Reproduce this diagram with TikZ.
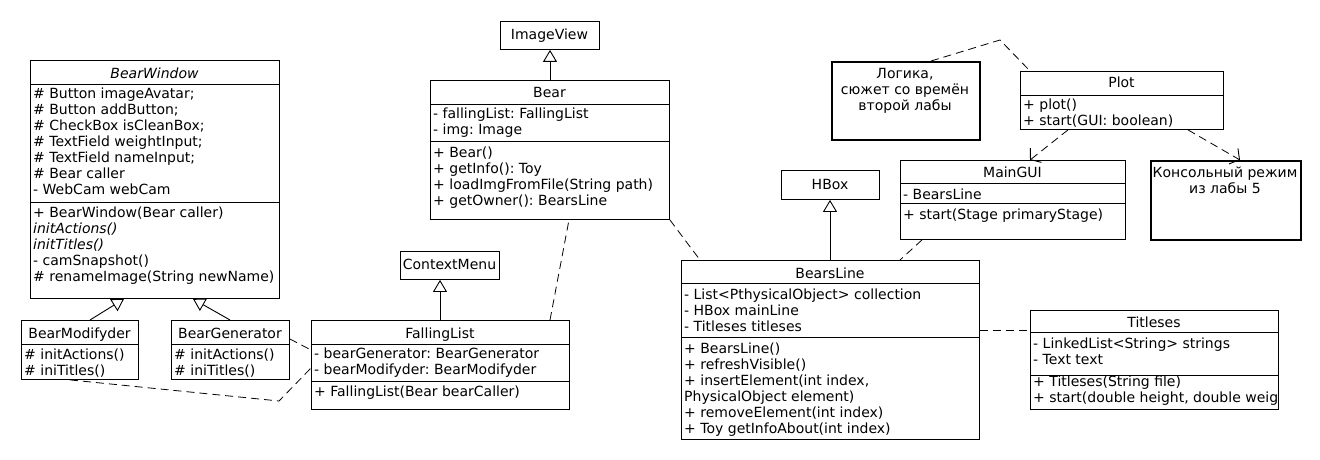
\documentclass[tikz,border=0pt]{standalone}
\usepackage{fontspec}
\setmainfont{DejaVu Sans}
\usetikzlibrary{arrows.meta,calc}
\frenchspacing
\newcommand\fsz{\fontsize{14}{16}\selectfont\frenchspacing}
\tikzset{
  cls/.style={draw, line width=0.9pt, inner sep=0pt, anchor=north west, rectangle},
  notebox/.style={cls, line width=2.4pt},
  txt/.style={inner sep=0pt, anchor=north west, align=left, font=\fsz},
  ctxt/.style={inner sep=0pt, anchor=north, align=center, font=\fsz},
  ttl/.style={inner sep=0pt, anchor=base, font=\fsz},
  sepl/.style={line width=0.9pt},
  dep/.style={line width=0.8pt, dash pattern=on 8pt off 5pt},
  inh/.style={line width=0.9pt, -{Triangle[open, length=12pt, width=14pt]}},
  dar/.style={dep, -{Straight Barb[length=7pt, width=18pt, line width=0.9pt]}}
}
\begin{document}
\begin{tikzpicture}[x=1pt,y=-1pt]
\fill[white] (0,0) rectangle (1320,460);
\path[use as bounding box] (0,0) rectangle (1320,460);

% BearWindow
\node[cls, minimum width=249pt, minimum height=238pt] (bw) at (30,60) {};
\node[ttl] (bwt) at (154.5,78) {\textit{BearWindow}};
\draw[sepl] (bw.west |- 0,84) -- (bw.east |- 0,84);
\draw[sepl] (bw.west |- 0,202) -- (bw.east |- 0,202);
\node[txt] (bwa) at (33,86.8) {\strut\# Button imageAvatar;\\ \# Button addButton;\\ \# CheckBox isCleanBox;\\ \# TextField weightInput;\\ \# TextField nameInput;\\ \# Bear caller\\ - WebCam webCam};
\node[txt] (bwm) at (33,205.8) {\strut+ BearWindow(Bear caller)\\ \textit{initActions()}\\ \textit{initTitles()}\\ - camSnapshot()\\ \# renameImage(String newName)};

% BearModifyder
\node[cls, minimum width=117pt, minimum height=59pt] (bm) at (21,320) {};
\node[ttl] (bmt) at (79.5,338) {BearModifyder};
\draw[sepl] (bm.west |- 0,344) -- (bm.east |- 0,344);
\node[txt] (bmm) at (24,347.8) {\strut\# initActions()\\ \# iniTitles()};

% BearGenerator
\node[cls, minimum width=118pt, minimum height=59pt] (bg) at (171,320) {};
\node[ttl] (bgt) at (230,338) {BearGenerator};
\draw[sepl] (bg.west |- 0,344) -- (bg.east |- 0,344);
\node[txt] (bgm) at (174,347.8) {\strut\# initActions()\\ \# iniTitles()};

% FallingList
\node[cls, minimum width=258pt, minimum height=89pt] (fl) at (311,320) {};
\node[ttl] (flt) at (440,338) {FallingList};
\draw[sepl] (fl.west |- 0,344) -- (fl.east |- 0,344);
\draw[sepl] (fl.west |- 0,381) -- (fl.east |- 0,381);
\node[txt] (fla) at (314,346.8) {\strut- bearGenerator: BearGenerator\\ - bearModifyder: BearModifyder};
\node[txt] (flm) at (314,384.8) {\strut+ FallingList(Bear bearCaller)};

% ContextMenu
\node[cls, minimum width=99pt, minimum height=28pt] (cm) at (400,251) {};
\node[ttl] (cmt) at (449.5,269.5) {ContextMenu};

% Bear
\node[cls, minimum width=239pt, minimum height=139pt] (bear) at (430,80) {};
\node[ttl] (beart) at (549.5,97) {Bear};
\draw[sepl] (bear.west |- 0,104) -- (bear.east |- 0,104);
\draw[sepl] (bear.west |- 0,141) -- (bear.east |- 0,141);
\node[txt] (beara) at (433,106.8) {\strut- fallingList: FallingList\\ - img: Image};
\node[txt] (bearm) at (433,145.8) {\strut+ Bear()\\ + getInfo(): Toy\\ + loadImgFromFile(String path)\\ + getOwner(): BearsLine};

% ImageView
\node[cls, minimum width=99pt, minimum height=28pt] (iv) at (500,21) {};
\node[ttl] (ivt) at (549.5,40) {ImageView};

% HBox
\node[cls, minimum width=98pt, minimum height=29pt] (hb) at (781,170) {};
\node[ttl] (hbt) at (830,189) {HBox};

% BearsLine
\node[cls, minimum width=298pt, minimum height=179pt] (bl) at (681,260) {};
\node[ttl] (blt) at (830,278) {BearsLine};
\draw[sepl] (bl.west |- 0,283) -- (bl.east |- 0,283);
\draw[sepl] (bl.west |- 0,337) -- (bl.east |- 0,337);
\node[txt] (bla) at (684,287.8) {\strut- List<PthysicalObject> collection\\ - HBox mainLine\\ - Titleses titleses};
\node[txt] (blm) at (684,341.8) {\strut+ BearsLine()\\ + refreshVisible()\\ + insertElement(int index,\\ PhysicalObject element)\\ + removeElement(int index)\\ + Toy getInfoAbout(int index)};

% MainGUI
\node[cls, minimum width=225pt, minimum height=79pt] (mg) at (900,160) {};
\node[ttl] (mgt) at (1012.5,177) {MainGUI};
\draw[sepl] (mg.west |- 0,183) -- (mg.east |- 0,183);
\draw[sepl] (mg.west |- 0,203) -- (mg.east |- 0,203);
\node[txt] (mga) at (903,187.8) {\strut- BearsLine};
\node[txt] (mgm) at (903,207.8) {\strut+ start(Stage primaryStage)};

% Plot
\node[cls, minimum width=203pt, minimum height=58pt] (pl) at (1020,71) {};
\node[ttl] (plt) at (1121.5,88) {Plot};
\draw[sepl] (pl.west |- 0,95) -- (pl.east |- 0,95);
\node[txt] (plm) at (1023,97.8) {\strut+ plot()\\ + start(GUI: boolean)};

% Titleses
\node[cls, minimum width=248pt, minimum height=99pt] (ti) at (1030,310) {};
\node[ttl] (tit) at (1154,327) {Titleses};
\draw[sepl] (ti.west |- 0,332) -- (ti.east |- 0,332);
\draw[sepl] (ti.west |- 0,375) -- (ti.east |- 0,375);
\node[txt] (tia) at (1033,336.8) {\strut- LinkedList<String> strings\\ - Text text};
\begin{scope}
\clip (ti.north west) rectangle (ti.south east);
\node[txt] (tim) at (1033,375.3) {\strut+ Titleses(String file)\\ + start(double height, double weig};
\end{scope}

% Notes
\node[notebox, minimum width=148pt, minimum height=78pt] (lg) at (831,61) {};
\node[ctxt] (lgt) at (905,66.8) {\strut Логика,\\ сюжет со времён\\ второй лабы};
\node[notebox, minimum width=150pt, minimum height=79pt] (kr) at (1150,160) {};
\node[ctxt] (krt) at (1225,165.8) {\strut Консольный режим\\ из лабы 5};

% Inheritance
\draw[inh] (bm.north -| 90,0) -- (bw.south -| 124,0);
\draw[inh] (bg.north -| 230,0) -- (bw.south -| 193,0);
\draw[inh] (fl.north -| 440,0) -- (cm.south -| 440,0);
\draw[inh] (bear.north -| 550,0) -- (iv.south -| 550,0);
\draw[inh] (bl.north -| 830,0) -- (hb.south -| 830,0);

% Dependencies
\coordinate (c1) at (279,401);
\draw[dep] (bm.south -| 70,0) -- (c1) -- (fl.west |- 0,368);
\draw[dep] (bg.east |- 0,339) -- (fl.west |- 0,350);
\draw[dep] (fl.north -| 550,0) -- (bear.south -| 569,0);
\draw[dep] (bear.south east) -- (bl.north -| 700,0);
\draw[dep] (mg.south -| 922,0) -- (bl.north -| 900,0);
\draw[dep] (bl.east |- 0,330) -- (ti.west |- 0,330);
\coordinate (c2) at (1000,40);
\draw[dep] (lg.north -| 931,0) -- (c2) -- (pl.north -| 1030,0);
\draw[dar] (pl.south -| 1068,0) -- (mg.north -| 1030,0);
\draw[dar] (pl.south -| 1188,0) -- (kr.north -| 1240,0);
\end{tikzpicture}
\end{document}
